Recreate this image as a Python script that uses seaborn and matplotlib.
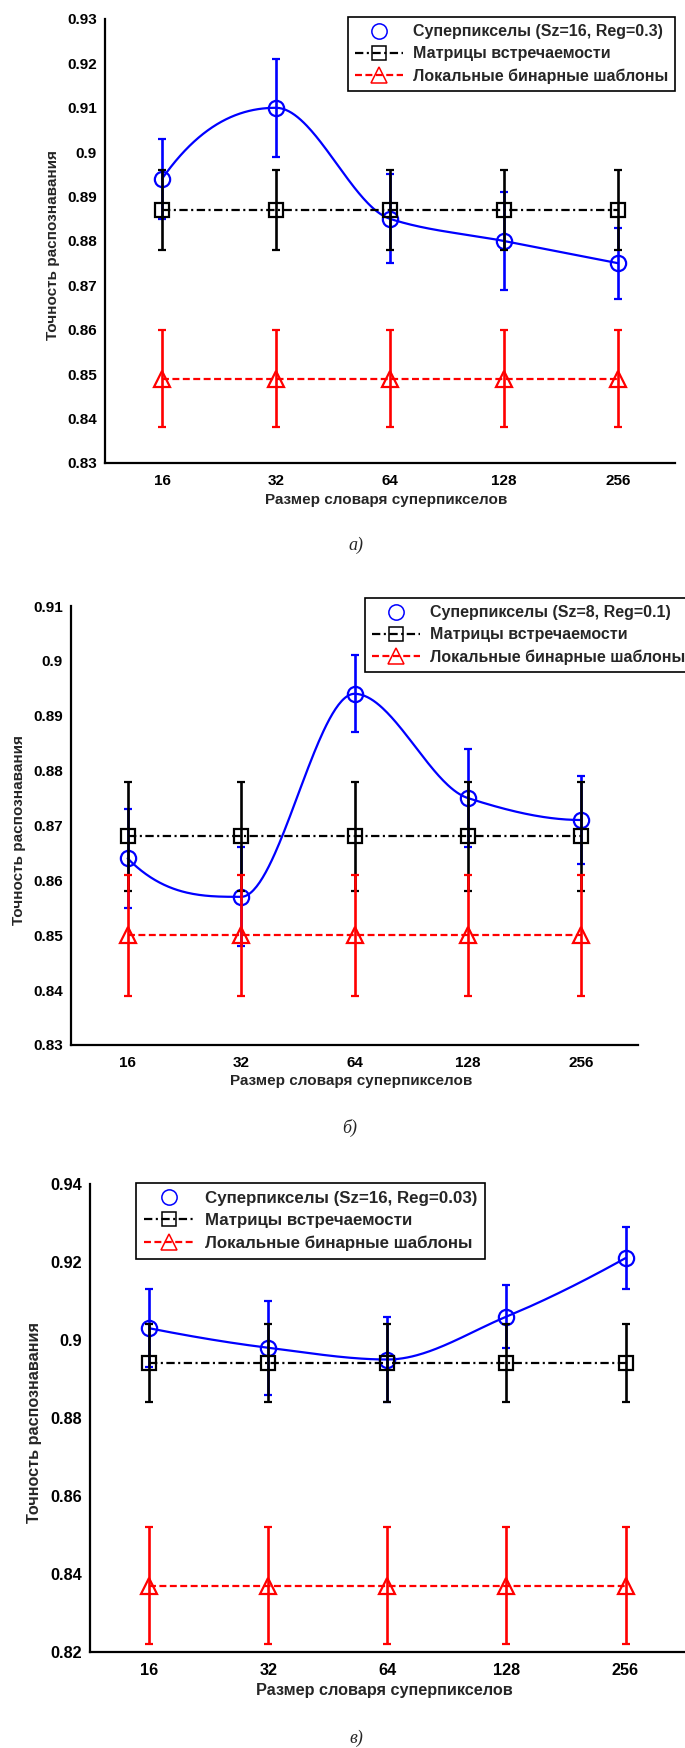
#!/usr/bin/env python3
"""
Recognition accuracy vs superpixel dictionary size (three panels)
"""

import numpy as np
import matplotlib
matplotlib.use("Agg")
import matplotlib.pyplot as plt
import seaborn as sns
from matplotlib.lines import Line2D

sns.set_style("white")
plt.rcParams['font.family'] = ['Liberation Sans', 'DejaVu Sans']
plt.rcParams['lines.scale_dashes'] = False

# Data
dict_sizes = [16, 32, 64, 128, 256]
tick_labels = ['16', '32', '64', '128', '256']

# panel а
sp_a = [0.894, 0.910, 0.885, 0.880, 0.875]
sp_a_err = [0.009, 0.011, 0.010, 0.011, 0.008]
glcm_a = [0.887, 0.887, 0.887, 0.887, 0.887]
glcm_a_err = [0.009, 0.009, 0.009, 0.009, 0.009]
lbp_a = [0.849, 0.849, 0.849, 0.849, 0.849]
lbp_a_err = [0.011, 0.011, 0.011, 0.011, 0.011]

# panel б
sp_b = [0.864, 0.857, 0.894, 0.875, 0.871]
sp_b_err = [0.009, 0.009, 0.007, 0.009, 0.008]
glcm_b = [0.868, 0.868, 0.868, 0.868, 0.868]
glcm_b_err = [0.010, 0.010, 0.010, 0.010, 0.010]
lbp_b = [0.850, 0.850, 0.850, 0.850, 0.850]
lbp_b_err = [0.011, 0.011, 0.011, 0.011, 0.011]

# panel в
sp_c = [0.903, 0.898, 0.895, 0.906, 0.921]
sp_c_err = [0.010, 0.012, 0.011, 0.008, 0.008]
glcm_c = [0.894, 0.894, 0.894, 0.894, 0.894]
glcm_c_err = [0.010, 0.010, 0.010, 0.010, 0.010]
lbp_c = [0.837, 0.837, 0.837, 0.837, 0.837]
lbp_c_err = [0.015, 0.015, 0.015, 0.015, 0.015]

sp_labels = ['Суперпикселы (Sz=16, Reg=0.3)',
             'Суперпикселы (Sz=8, Reg=0.1)',
             'Суперпикселы (Sz=16, Reg=0.03)']
glcm_label = 'Матрицы встречаемости'
lbp_label = 'Локальные бинарные шаблоны'
xlabel = 'Размер словаря суперпикселов'
ylabel = 'Точность распознавания'
captions = ['а)', 'б)', 'в)']

W, H = 685, 1748
BLUE, RED, BLACK = '#0000ff', '#ff0000', '#000000'
DASHDOT = (0, (6, 2.5, 1.5, 2.5))
DASHED = (0, (5, 2.5))


def pchip(x, y, xs):
    """Shape-preserving cubic through the points (like MATLAB pchip)"""
    x = np.asarray(x, float)
    y = np.asarray(y, float)
    h = np.diff(x)
    delta = np.diff(y) / h
    n = len(x)
    d = np.zeros(n)
    for k in range(1, n - 1):
        if delta[k - 1] * delta[k] > 0:
            w1 = 2 * h[k] + h[k - 1]
            w2 = h[k] + 2 * h[k - 1]
            d[k] = (w1 + w2) / (w1 / delta[k - 1] + w2 / delta[k])

    def end_slope(h0, h1, d0, d1):
        s = ((2 * h0 + h1) * d0 - h0 * d1) / (h0 + h1)
        if np.sign(s) != np.sign(d0):
            s = 0.0
        elif np.sign(d0) != np.sign(d1) and abs(s) > abs(3 * d0):
            s = 3 * d0
        return s

    d[0] = end_slope(h[0], h[1], delta[0], delta[1])
    d[-1] = end_slope(h[-1], h[-2], delta[-1], delta[-2])

    idx = np.clip(np.searchsorted(x, xs) - 1, 0, n - 2)
    t = (xs - x[idx]) / h[idx]
    h00 = 2 * t**3 - 3 * t**2 + 1
    h10 = t**3 - 2 * t**2 + t
    h01 = -2 * t**3 + 3 * t**2
    h11 = t**3 - t**2
    return (h00 * y[idx] + h10 * h[idx] * d[idx]
            + h01 * y[idx + 1] + h11 * h[idx] * d[idx + 1])


def px_rect(left, right, top, bottom):
    return [left / W, 1 - bottom / H, (right - left) / W, (bottom - top) / H]


def draw_panel(fig, rect, sp, sp_err, glcm, glcm_err, lbp, lbp_err,
               ylim, yticks, sp_label, legend_kw, ylabel_x, xlabel_y, fs):
    ax = fig.add_axes(rect)
    pos = np.log2(dict_sizes)
    eb = dict(fmt='none', elinewidth=1.9, capsize=2.7, capthick=1.6)

    # superpixels: error bars, smooth curve, hollow circles
    ax.errorbar(pos, sp, yerr=sp_err, ecolor=BLUE, zorder=2, **eb)
    xs = np.linspace(pos[0], pos[-1], 300)
    sns.lineplot(x=xs, y=pchip(pos, sp, xs), color=BLUE, linewidth=1.6,
                 ax=ax, zorder=3)
    ax.plot(pos, sp, linestyle='none', marker='o', ms=11, mfc='none',
            mec=BLUE, mew=1.6, zorder=4)

    # co-occurrence matrices
    ax.errorbar(pos, glcm, yerr=glcm_err, ecolor=BLACK, zorder=5, **eb)
    sns.lineplot(x=pos, y=glcm, color=BLACK, linewidth=1.6,
                 linestyle=DASHDOT, ax=ax, zorder=6)
    ax.plot(pos, glcm, linestyle='none', marker='s', ms=9.5, mfc='none',
            mec=BLACK, mew=1.6, zorder=7)

    # local binary patterns
    ax.errorbar(pos, lbp, yerr=lbp_err, ecolor=RED, zorder=8, **eb)
    sns.lineplot(x=pos, y=lbp, color=RED, linewidth=1.6,
                 linestyle=DASHED, ax=ax, zorder=9)
    ax.plot(pos, lbp, linestyle='none', marker='^', ms=12, mfc='none',
            mec=RED, mew=1.6, zorder=10)

    ax.set_xlim(pos[0] - 0.5, pos[-1] + 0.5)
    ax.set_ylim(*ylim)
    ax.set_xticks(pos)
    ax.set_xticklabels(tick_labels)
    ax.set_yticks(yticks)
    ax.set_yticklabels([f'{v:g}' for v in yticks])

    sns.despine(ax=ax)
    for side in ('left', 'bottom'):
        ax.spines[side].set_linewidth(1.6)
        ax.spines[side].set_color(BLACK)
    ax.tick_params(direction='in', length=4, width=1.5, colors=BLACK,
                   labelsize=fs)
    ax.tick_params(axis='x', pad=8)
    ax.tick_params(axis='y', pad=6)
    for lab in ax.get_xticklabels() + ax.get_yticklabels():
        lab.set_fontweight('bold')

    ax.set_xlabel(xlabel, fontsize=fs, fontweight='bold')
    ax.set_ylabel(ylabel, fontsize=fs, fontweight='bold')
    ax.xaxis.set_label_coords(0.494, xlabel_y)
    ax.yaxis.set_label_coords(ylabel_x, 0.49)

    handles = [
        Line2D([], [], color=BLUE, marker='o', linestyle='none', ms=11,
               mfc='none', mew=1.1),
        Line2D([], [], color=BLACK, marker='s', linestyle=DASHDOT, lw=1.6,
               ms=10, mfc='none', mew=1.1),
        Line2D([], [], color=RED, marker='^', linestyle=DASHED, lw=1.6,
               ms=12, mfc='none', mew=1.1),
    ]
    leg = ax.legend(handles, [sp_label, glcm_label, lbp_label],
                    bbox_transform=fig.transFigure, frameon=True,
                    fancybox=False, framealpha=1, edgecolor=BLACK,
                    prop={'weight': 'bold', 'size': fs + 0.5}, handlelength=3.0,
                    handletextpad=0.6, labelspacing=0.45, borderpad=0.45,
                    borderaxespad=0, **legend_kw)
    leg.get_frame().set_linewidth(1.2)
    return ax


fig = plt.figure(figsize=(W / 100, H / 100), dpi=100)
fig.patch.set_facecolor('white')

draw_panel(fig, px_rect(105, 675, 19, 463), sp_a, sp_a_err, glcm_a, glcm_a_err,
           lbp_a, lbp_a_err, (0.83, 0.93), np.arange(0.83, 0.9301, 0.01),
           sp_labels[0],
           dict(loc='upper right', bbox_to_anchor=(675 / W, 1 - 17 / H)),
           -0.079, -0.068, 11)

draw_panel(fig, px_rect(71, 638, 606, 1045), sp_b, sp_b_err, glcm_b, glcm_b_err,
           lbp_b, lbp_b_err, (0.83, 0.91), np.arange(0.83, 0.9101, 0.01),
           sp_labels[1],
           dict(loc='upper right', bbox_to_anchor=(692 / W, 1 - 598 / H)),
           -0.080, -0.066, 11)

draw_panel(fig, px_rect(90, 685, 1184, 1652), sp_c, sp_c_err, glcm_c, glcm_c_err,
           lbp_c, lbp_c_err, (0.82, 0.94), np.arange(0.82, 0.9401, 0.02),
           sp_labels[2],
           dict(loc='upper left', bbox_to_anchor=(136 / W, 1 - 1183 / H)),
           -0.081, -0.066, 11.7)

# captions under each panel
for text, (cx, cy) in zip(captions, [(356, 545), (350, 1128), (356, 1738)]):
    fig.text(cx / W, 1 - cy / H, text, ha='center', va='center',
             fontsize=13, fontstyle='italic', family=['Liberation Serif', 'DejaVu Serif'])

fig.savefig('out.png', dpi=100, facecolor='white')
print("Saved: out.png")
